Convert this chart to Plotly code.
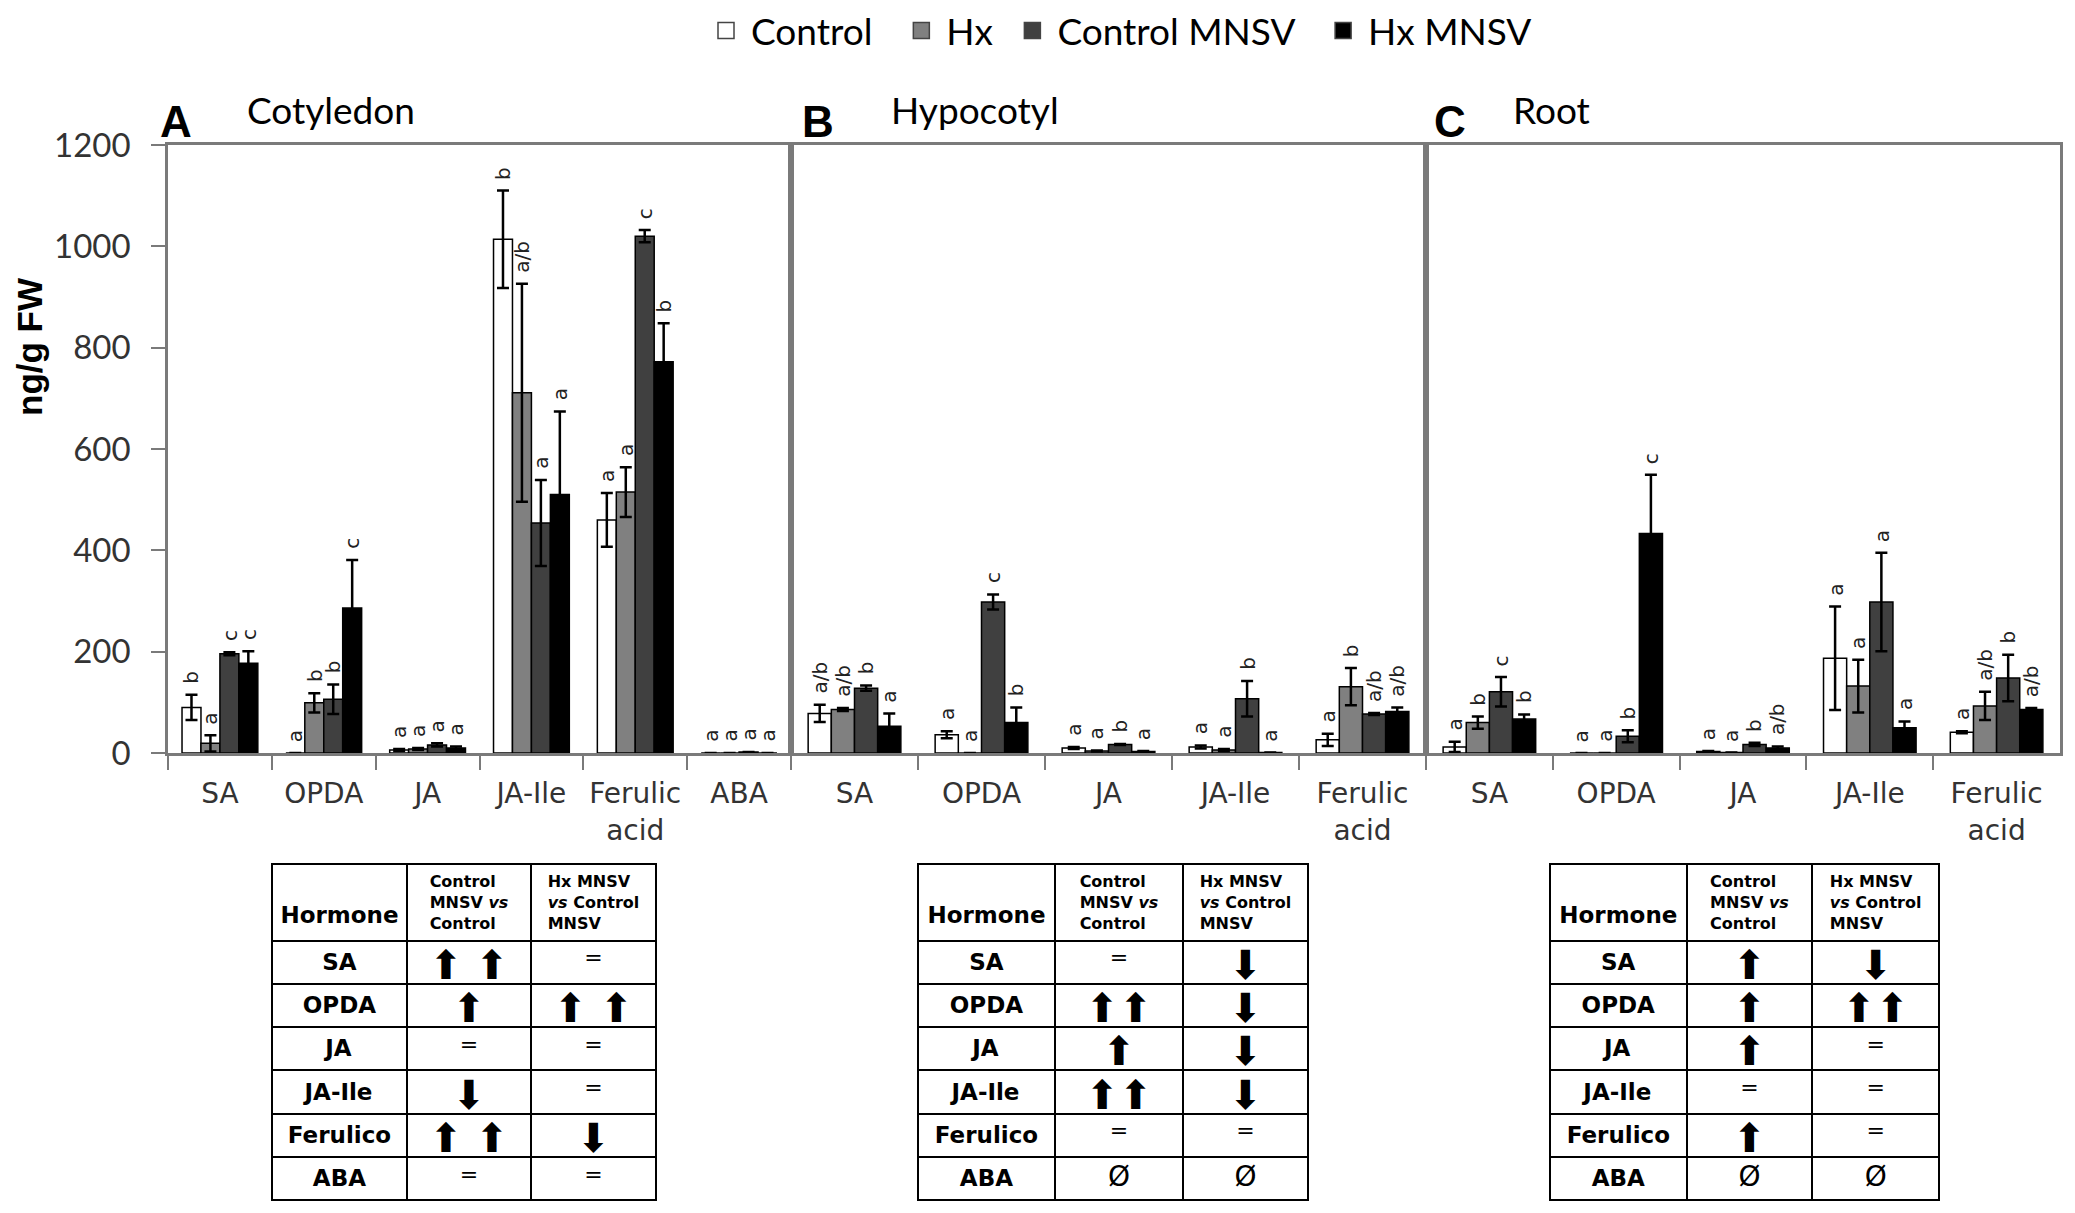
import plotly.graph_objects as go

W, H = 2075, 1213

# ---------------- data ----------------
series_names = ["Control", "Hx", "Control MNSV", "Hx MNSV"]
series_colors = ["#ffffff", "#808080", "#404040", "#000000"]

cats_A = ["SA", "OPDA", "JA", "JA-Ile", "Ferulic<br>acid", "ABA"]
cats_BC = ["SA", "OPDA", "JA", "JA-Ile", "Ferulic<br>acid"]

# Cotyledon (A)
cot_control = [90, 0, 6, 1014, 460, 0]
cot_hx = [19, 99, 8, 711, 515, 0]
cot_cmnsv = [196, 106, 16, 454, 1020, 2]
cot_hxmnsv = [177, 286, 10, 510, 772, 0]
cot_control_err = [25, None, 2, 96, 53, None]
cot_hx_err = [16, 19, 2, 215, 49, None]
cot_cmnsv_err = [3, 29, 3, 85, 12, None]
cot_hxmnsv_err = [24, 95, 3, 164, 76, None]
cot_control_lab = ["b", "a", "a", "b", "a", "a"]
cot_hx_lab = ["a", "b", "a", "a/b", "a", "a"]
cot_cmnsv_lab = ["c", "b", "a", "a", "c", "a"]
cot_hxmnsv_lab = ["c", "c", "a", "a", "b", "a"]

# Hypocotyl (B)
hyp_control = [78, 36, 10, 12, 26]
hyp_hx = [86, 0, 4, 6, 131]
hyp_cmnsv = [128, 298, 17, 107, 77]
hyp_hxmnsv = [53, 60, 3, 1, 82]
hyp_control_err = [17, 7, 2, 3, 12]
hyp_hx_err = [3, None, 1, 2, 37]
hyp_cmnsv_err = [5, 15, 1, 35, 2]
hyp_hxmnsv_err = [25, 30, 1, None, 8]
hyp_control_lab = ["a/b", "a", "a", "a", "a"]
hyp_hx_lab = ["a/b", "a", "a", "a", "b"]
hyp_cmnsv_lab = ["b", "c", "b", "b", "a/b"]
hyp_hxmnsv_lab = ["a", "b", "a", "a", "a/b"]

# Root (C)
root_control = [12, 0, 3, 187, 41]
root_hx = [60, 0, 1, 132, 93]
root_cmnsv = [121, 33, 17, 298, 148]
root_hxmnsv = [67, 433, 10, 50, 86]
root_control_err = [10, None, 1, 102, 2]
root_hx_err = [12, None, None, 52, 28]
root_cmnsv_err = [29, 12, 3, 97, 46]
root_hxmnsv_err = [9, 116, 3, 12, 3]
root_control_lab = ["a", "a", "a", "a", "a"]
root_hx_lab = ["b", "a", "a", "a", "a/b"]
root_cmnsv_lab = ["c", "b", "b", "a", "b"]
root_hxmnsv_lab = ["b", "c", "a/b", "a", "a/b"]

panel_titles = ["Cotyledon", "Hypocotyl", "Root"]
panel_letters = ["A", "B", "C"]
y_ticks = [0, 200, 400, 600, 800, 1000, 1200]
y_title = "ng/g FW"

# Tables
table_header = ["\u00a0<br><b>Hormone</b>",
                "<b>Control<br>MNSV <i>vs</i><br>Control</b>",
                "<b>Hx MNSV<br><i>vs</i> Control<br>MNSV</b>"]
hormones = ["SA", "OPDA", "JA", "JA-Ile", "Ferulico", "ABA"]
UP, DN = "\u2b06", "\u2b07"
UU = "\u2b06\u00a0\u2b06"
UU2 = "\u2b06\u2b06"
EQ = "="
NULL = "\u00d8"
tabA_c1 = [UU, UP, EQ, DN, UU, EQ]
tabA_c2 = [EQ, UU, EQ, EQ, DN, EQ]
tabB_c1 = [EQ, UU2, UP, UU2, EQ, NULL]
tabB_c2 = [DN, DN, DN, DN, EQ, NULL]
tabC_c1 = [UP, UP, UP, EQ, UP, NULL]
tabC_c2 = [DN, UU2, EQ, EQ, EQ, NULL]

# ---------------- figure ----------------
OFF = 8  # page offset of the plot div


def px_x(p):
    return (p - OFF) / W


def px_y(p):
    return 1 - (p - OFF) / H


panels = [
    dict(x="x", y="y", cats=cats_A,
         vals=[cot_control, cot_hx, cot_cmnsv, cot_hxmnsv],
         errs=[cot_control_err, cot_hx_err, cot_cmnsv_err, cot_hxmnsv_err],
         labs=[cot_control_lab, cot_hx_lab, cot_cmnsv_lab, cot_hxmnsv_lab]),
    dict(x="x2", y="y2", cats=cats_BC,
         vals=[hyp_control, hyp_hx, hyp_cmnsv, hyp_hxmnsv],
         errs=[hyp_control_err, hyp_hx_err, hyp_cmnsv_err, hyp_hxmnsv_err],
         labs=[hyp_control_lab, hyp_hx_lab, hyp_cmnsv_lab, hyp_hxmnsv_lab]),
    dict(x="x3", y="y3", cats=cats_BC,
         vals=[root_control, root_hx, root_cmnsv, root_hxmnsv],
         errs=[root_control_err, root_hx_err, root_cmnsv_err, root_hxmnsv_err],
         labs=[root_control_lab, root_hx_lab, root_cmnsv_lab, root_hxmnsv_lab]),
]

BARGAP = 0.27
bw = (1 - BARGAP) / 4
offsets = [-(1 - BARGAP) / 2 + bw * (j + 0.5) for j in range(4)]

fig = go.Figure()
annotations = []
for pi, p in enumerate(panels):
    for j in range(4):
        fig.add_trace(go.Bar(
            x=p["cats"], y=p["vals"][j], name=series_names[j],
            xaxis=p["x"], yaxis=p["y"],
            marker=dict(color=series_colors[j], line=dict(color="#000000", width=1.5)),
            error_y=dict(type="data", array=p["errs"][j], visible=True,
                         color="#000000", thickness=2.5, width=6),
            showlegend=False,
        ))
        for i, lab in enumerate(p["labs"][j]):
            e = p["errs"][j][i] or 0
            annotations.append(dict(
                x=i + offsets[j], y=p["vals"][j][i] + e,
                xref=p["x"], yref=p["y"], text=lab, showarrow=False,
                textangle=-90, yanchor="bottom", xanchor="center", yshift=9,
                font=dict(family="DejaVu Sans", size=20, color="#222222"),
            ))

# legend entries (square swatches)
legend_pad = ["\u00a0" * 2, "\u00a0", "\u00a0" * 2, ""]
for j in range(4):
    fig.add_trace(go.Scatter(
        x=[None], y=[None], mode="markers", name=series_names[j] + legend_pad[j],
        marker=dict(symbol="square", size=20, color=series_colors[j],
                    line=dict(color="#444444", width=1.5)),
        xaxis="x", yaxis="y", showlegend=True,
    ))

# panel titles / letters
letter_x = [158, 800, 1432]
title_x = [245, 889, 1511]
for k in range(3):
    annotations.append(dict(x=px_x(letter_x[k]), y=px_y(121), xref="paper", yref="paper",
                            text="<b>" + panel_letters[k] + "</b>", showarrow=False,
                            xanchor="left", yanchor="middle",
                            font=dict(family="Liberation Sans", size=44, color="#000000")))
    annotations.append(dict(x=px_x(title_x[k]), y=px_y(110), xref="paper", yref="paper",
                            text=panel_titles[k], showarrow=False,
                            xanchor="left", yanchor="middle",
                            font=dict(family="Lato", size=37, color="#000000")))
annotations.append(dict(x=px_x(30), y=px_y(347), xref="paper", yref="paper",
                        text="<b>" + y_title + "</b>", showarrow=False, textangle=-90,
                        xanchor="center", yanchor="middle",
                        font=dict(family="Liberation Sans", size=35, color="#000000")))


# tables
def size_of(v):
    if v in (UP, DN, UU, UU2):
        return 40
    if v == EQ:
        return 22
    return 28


table_specs = [
    (272, 656, [135, 124, 125], tabA_c1, tabA_c2),
    (918, 1308, [137, 128, 125], tabB_c1, tabB_c2),
    (1550, 1940, [137, 126, 127], tabC_c1, tabC_c2),
]
table_idx = []
for xl, xr, col_w, c1, c2 in table_specs:
    fig.add_trace(go.Table(
        domain=dict(x=[px_x(xl), px_x(xr)], y=[px_y(1205), px_y(864)]),
        columnwidth=col_w,
        header=dict(values=table_header, height=74, align="center",
                    line=dict(color="#000000", width=2), fill=dict(color="#ffffff"),
                    font=dict(family="DejaVu Sans", size=[23, 16, 16], color="#000000")),
        cells=dict(values=[["<b>" + h + "</b>" for h in hormones], c1, c2],
                   height=43.3, align="center",
                   line=dict(color="#000000", width=2), fill=dict(color="#ffffff"),
                   font=dict(family="DejaVu Sans", size=[23, 30, 30], color="#000000")),
    ))
    table_idx.append((len(fig.data) - 1, c1, c2))

# per-cell font sizes (plotly.js accepts per-cell arrays for table fonts)
try:
    for idx, c1, c2 in table_idx:
        fig._data[idx]["cells"]["font"]["size"] = [
            [23] * len(hormones), [size_of(v) for v in c1], [size_of(v) for v in c2]]
except Exception:
    pass

AX = "#7a7a7a"
x_dom = [(168, 791), (791, 1426), (1426, 2060)]
ydom = [px_y(753), px_y(145)]
layout_axes = {}
for k, (a, b) in enumerate(x_dom):
    sfx = "" if k == 0 else str(k + 1)
    ncat = len(panels[k]["cats"])
    layout_axes["xaxis" + sfx] = dict(
        domain=[px_x(a), px_x(b)], anchor="y" + sfx, type="category",
        range=[-0.5, ncat - 0.5], tickson="boundaries", ticks="outside",
        ticklen=14, tickwidth=2, tickcolor=AX, showline=True, linecolor=AX,
        linewidth=2.5, mirror=True, showgrid=False, ticklabelstandoff=14,
        tickfont=dict(family="DejaVu Sans", size=28, color="#333333"),
    )
    layout_axes["yaxis" + sfx] = dict(
        domain=ydom, anchor="x" + sfx, range=[0, 1200], showline=True,
        linecolor=AX, linewidth=2.5, mirror=True, showgrid=False, zeroline=False,
        tickvals=y_ticks if k == 0 else [], ticks="outside" if k == 0 else "",
        ticklen=14, tickwidth=2, tickcolor=AX, showticklabels=(k == 0),
        ticklabelstandoff=14,
        tickfont=dict(family="Lato", size=33, color="#333333"),
    )

fig.update_layout(
    width=W, height=H, margin=dict(l=0, r=0, t=0, b=0, autoexpand=False),
    paper_bgcolor="#ffffff", plot_bgcolor="#ffffff",
    barmode="group", bargap=BARGAP, bargroupgap=0,
    showlegend=True,
    legend=dict(orientation="h", x=px_x(1119), xanchor="center", y=px_y(31), yanchor="middle",
                font=dict(family="Lato", size=37, color="#000000"),
                traceorder="normal", itemwidth=40, bgcolor="rgba(0,0,0,0)"),
    annotations=annotations,
    **layout_axes,
)

fig.write_html("out.html")
